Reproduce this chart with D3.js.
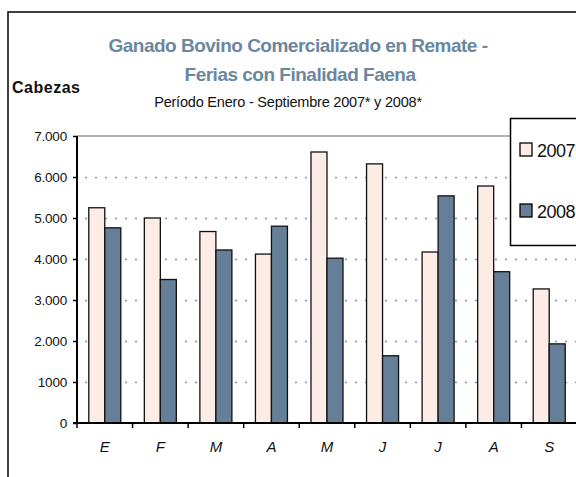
<!DOCTYPE html>
<html>
<head>
<meta charset="utf-8">
<script src="https://cdn.jsdelivr.net/npm/d3@7"></script>
<style>
  body { margin: 0; background: #fff; }
  text { font-family: "Liberation Sans", Arial, sans-serif; }
</style>
</head>
<body>
<div class="chart"></div>
<script>
(function() {
  // data
  var months = ["E", "F", "M", "A", "M", "J", "J", "A", "S"];
  var series = ["2007", "2008"];
  var v2007 = [5250, 5000, 4670, 4120, 6610, 6320, 4170, 5780, 3270];
  var v2008 = [4760, 3500, 4220, 4800, 4020, 1640, 5540, 3690, 1930];
  var yTicks = [0, 1000, 2000, 3000, 4000, 5000, 6000, 7000];
  var yLabels = ["0", "1000", "2.000", "3.000", "4.000", "5.000", "6.000", "7.000"];

  var width = 576, height = 477;
  var plot = { left: 77, right: 577, top: 136, bottom: 423 };
  var colors = { "2007": "#fdebe5", "2008": "#647f97" };

  var svg = d3.select(".chart").append("svg")
    .attr("width", width)
    .attr("height", height);

  // outer frame
  svg.append("rect")
    .attr("x", 8).attr("y", 12)
    .attr("width", 600).attr("height", 500)
    .attr("fill", "none").attr("stroke", "#000").attr("stroke-width", 1.5);

  var x = d3.scaleBand().domain(d3.range(months.length)).range([plot.left, plot.right]).paddingInner(0).paddingOuter(0);
  var y = d3.scaleLinear().domain([0, 7000]).range([plot.bottom, plot.top]);
  var barW = 16;

  // gridlines
  svg.append("g").selectAll("line")
    .data(yTicks.filter(function(d) { return d > 0 && d < 7000; }))
    .enter().append("line")
      .attr("x1", plot.left + 8).attr("x2", plot.right)
      .attr("y1", function(d) { return Math.round(y(d)) + 0.5; })
      .attr("y2", function(d) { return Math.round(y(d)) + 0.5; })
      .attr("stroke", "#7f97ad").attr("stroke-width", 1.6)
      .attr("stroke-dasharray", "2,8");
  svg.append("line")
    .attr("x1", plot.left).attr("x2", plot.right)
    .attr("y1", y(7000)).attr("y2", y(7000))
    .attr("stroke", "#999").attr("stroke-width", 1.5);

  // bars
  var groups = svg.append("g").selectAll("g")
    .data(months)
    .enter().append("g")
      .attr("transform", function(d, i) { return "translate(" + (x(i) + x.bandwidth() / 2 - barW) + ",0)"; });
  groups.append("rect")
    .attr("x", 0)
    .attr("y", function(d, i) { return y(v2007[i]); })
    .attr("width", barW)
    .attr("height", function(d, i) { return y(0) - y(v2007[i]); })
    .attr("fill", colors["2007"]).attr("stroke", "#111").attr("stroke-width", 1.3);
  groups.append("rect")
    .attr("x", barW)
    .attr("y", function(d, i) { return y(v2008[i]); })
    .attr("width", barW)
    .attr("height", function(d, i) { return y(0) - y(v2008[i]); })
    .attr("fill", colors["2008"]).attr("stroke", "#111").attr("stroke-width", 1.3);

  // y axis
  var yAxis = d3.axisLeft(y).tickValues(yTicks)
    .tickFormat(function(d, i) { return yLabels[i]; })
    .tickSize(4).tickPadding(6);
  var gy = svg.append("g").attr("transform", "translate(" + plot.left + ",0)").call(yAxis);
  gy.select(".domain").attr("stroke", "#000").attr("stroke-width", 2).attr("d", "M0," + plot.top + "V" + plot.bottom);
  gy.selectAll(".tick line").attr("stroke", "#000").attr("stroke-width", 1.5);
  gy.selectAll(".tick text")
    .attr("font-family", "Liberation Sans, Arial, sans-serif")
    .attr("font-size", 13.5).attr("letter-spacing", "-0.2px").attr("fill", "#111");

  // x axis
  var xAxis = d3.axisBottom(x).tickFormat(function(i) { return months[i]; }).tickSize(0).tickPadding(18);
  var gx = svg.append("g").attr("transform", "translate(0," + plot.bottom + ")").call(xAxis);
  gx.select(".domain").attr("stroke", "#000").attr("stroke-width", 2).attr("d", "M" + (plot.left - 4) + ",0H" + plot.right);
  gx.selectAll(".tick text")
    .attr("font-family", "Liberation Sans, Arial, sans-serif")
    .attr("font-size", 15).attr("font-style", "italic").attr("fill", "#111");
  gx.selectAll(".sep")
    .data(d3.range(months.length + 1))
    .enter().append("line")
      .attr("class", "sep")
      .attr("x1", function(i) { return plot.left + i * x.bandwidth(); })
      .attr("x2", function(i) { return plot.left + i * x.bandwidth(); })
      .attr("y1", 0).attr("y2", 5)
      .attr("stroke", "#000").attr("stroke-width", 1.5);

  // titles
  var title = svg.append("g").attr("fill", "#6b87a0").attr("font-weight", "bold")
    .attr("font-size", 19).attr("text-anchor", "middle").attr("letter-spacing", "-0.5px");
  title.append("text").attr("x", 298).attr("y", 52).text("Ganado Bovino Comercializado en Remate -");
  title.append("text").attr("x", 300).attr("y", 81).text("Ferias con Finalidad Faena");
  svg.append("text").attr("x", 288).attr("y", 107)
    .attr("text-anchor", "middle").attr("font-size", 14.5).attr("letter-spacing", "-0.2px").attr("fill", "#111")
    .text("Período Enero - Septiembre 2007* y 2008*");
  svg.append("text").attr("x", 12).attr("y", 93)
    .attr("font-size", 16).attr("font-weight", "bold").attr("letter-spacing", "0.5px").attr("fill", "#111")
    .text("Cabezas");

  // legend
  var lg = svg.append("g");
  lg.append("rect").attr("x", 510.5).attr("y", 118.5).attr("width", 80).attr("height", 127)
    .attr("fill", "#fff").attr("stroke", "#000").attr("stroke-width", 1.5);
  var items = lg.selectAll(".item").data(series).enter().append("g")
    .attr("transform", function(d, i) { return "translate(520," + (143 + i * 61) + ")"; });
  items.append("rect").attr("width", 12).attr("height", 13)
    .attr("fill", function(d) { return colors[d]; }).attr("stroke", "#000").attr("stroke-width", 1.3);
  items.append("text").attr("x", 17).attr("y", 14)
    .attr("font-size", 18).attr("letter-spacing", "-0.5px").attr("fill", "#111")
    .text(function(d) { return d; });
})();
</script>
</body>
</html>
